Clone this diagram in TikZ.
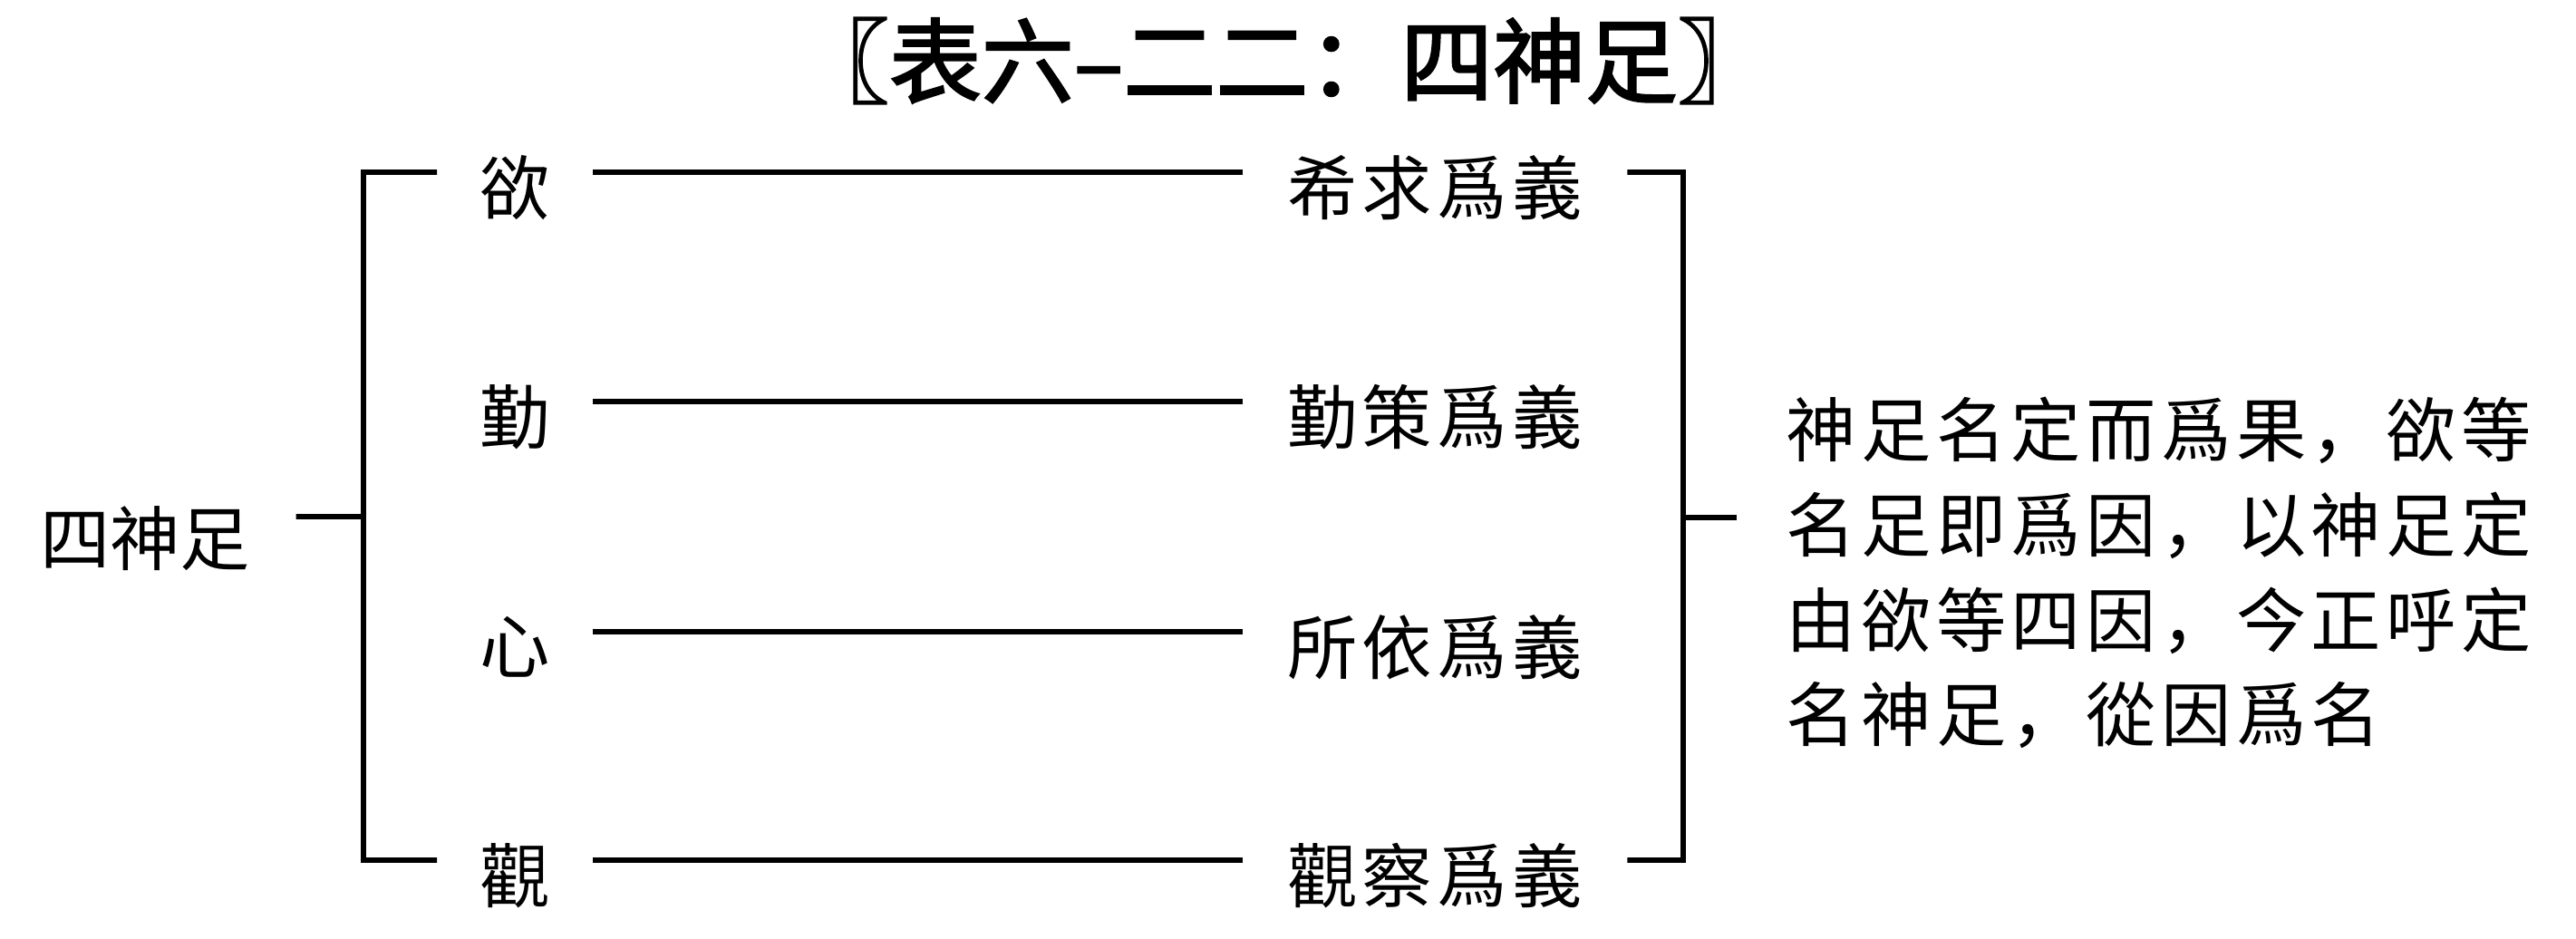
\documentclass[tikz,border=0pt]{standalone}
\usepackage{fontspec}
\newfontfamily\bodyfont{Noto Sans CJK SC}[LetterSpace=7]
\newfontfamily\rootfont{Noto Sans CJK SC}
\newfontfamily\titlefont{Noto Sans CJK SC}[FakeBold=2.2]
\begin{document}
\begin{tikzpicture}[
  link/.style={line width=1.6pt},
  cell/.style={font={\bodyfont\fontsize{22pt}{26pt}\selectfont}, inner ysep=0pt},
  lcell/.style={cell, inner xsep=0.465cm},
  rcell/.style={cell, inner xsep=0.49cm},
]
\def\lift{1.7mm}
\fill[white] (0,0) rectangle (28.42,-10.36);
\useasboundingbox (0,0) rectangle (28.42,-10.36);

% title
\node[font={\titlefont\fontsize{29pt}{32pt}\selectfont}] (title) at (14.16,-0.67) {〖表六–二二：四神足〗};

% root
\node[font={\rootfont\fontsize{22pt}{26pt}\selectfont}, inner xsep=0.5cm, inner ysep=0pt] (root) at (1.60,-5.94) {四神足};

% left column
\node[lcell] (yu)   at (5.68,-2.07) {欲};
\node[lcell] (qin)  at (5.68,-4.60) {勤};
\node[lcell] (xin)  at (5.68,-7.14) {心};
\node[lcell] (guan) at (5.68,-9.66) {觀};

% right column
\node[rcell] (yuR)   at (15.83,-2.07) {希求爲義};
\node[rcell] (qinR)  at (15.83,-4.60) {勤策爲義};
\node[rcell] (xinR)  at (15.83,-7.14) {所依爲義};
\node[rcell] (guanR) at (15.83,-9.66) {觀察爲義};

% explanation
\node[anchor=west, align=left, inner xsep=0.54cm, inner ysep=0pt,
      font={\bodyfont\fontsize{22pt}{29.85pt}\selectfont}] (para) at (19.16,-6.32)
  {神足名定而爲果，欲等\\名足即爲因，以神足定\\由欲等四因，今正呼定\\名神足，從因爲名};

% bracket spines
\coordinate (ltop) at (4.01,-1.90);
\coordinate (lbot) at (4.01,-9.49);
\coordinate (lmid) at (4.01,-5.70);
\coordinate (rtop) at (18.57,-1.90);
\coordinate (rbot) at (18.57,-9.49);
\coordinate (rmid) at (18.57,-5.71);

\draw[link] ([yshift=\lift]yu.west) -- (ltop) -- (lbot) -- ([yshift=\lift]guan.west);
\draw[link] ([yshift=2.4mm]root.east) -- (lmid);

\draw[link] ([yshift=\lift]yu.east) -- ([yshift=\lift]yuR.west);
\draw[link] ([yshift=\lift]qin.east) -- ([yshift=\lift]qinR.west);
\draw[link] ([yshift=\lift]xin.east) -- ([yshift=\lift]xinR.west);
\draw[link] ([yshift=\lift]guan.east) -- ([yshift=\lift]guanR.west);

\draw[link] ([yshift=\lift]yuR.east) -- (rtop) -- (rbot) -- ([yshift=\lift]guanR.east);
\draw[link] (rmid) -- (rmid -| para.west);
\end{tikzpicture}
\end{document}
